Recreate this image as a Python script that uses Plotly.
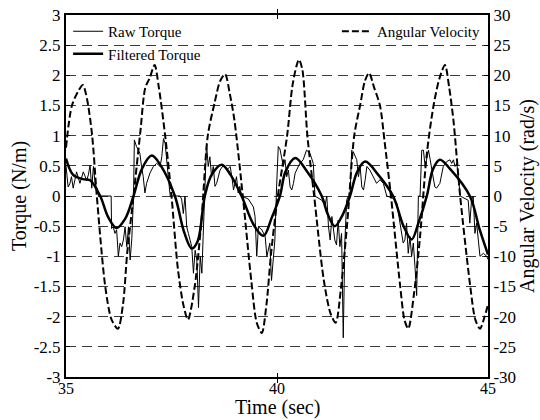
import plotly.graph_objects as go

# ---------------- data ----------------
raw_t = [35.00, 35.05, 35.09, 35.13, 35.17, 35.25, 35.33, 35.41, 35.49, 35.53, 35.57, 35.61, 35.65, 35.69, 35.73,
         35.77, 36.07, 36.08, 36.12, 36.16, 36.20, 36.24, 36.28, 36.32, 36.36, 36.40, 36.44, 36.48, 36.52, 36.56,
         36.60, 36.62, 36.67, 36.71, 36.75, 36.79, 36.83, 36.87, 36.91, 36.99, 37.07, 37.15, 37.23, 37.27, 37.31,
         37.35, 37.39, 37.43, 37.47, 37.70, 37.74, 37.78, 37.82, 37.86, 37.90, 37.94, 37.98, 38.02, 38.06, 38.10,
         38.14, 38.18, 38.22, 38.25, 38.29, 38.33, 38.37, 38.41, 38.45, 38.49, 38.53, 38.57, 38.65, 38.73, 38.81,
         38.89, 38.93, 38.97, 39.04, 39.08, 39.12, 39.16, 39.32, 39.44, 39.48, 39.52, 39.56, 39.64, 39.72, 39.76,
         39.83, 39.87, 39.91, 39.95, 39.99, 40.03, 40.07, 40.11, 40.15, 40.19, 40.23, 40.27, 40.31, 40.35, 40.39,
         40.43, 40.47, 40.54, 40.62, 40.70, 40.78, 40.82, 40.86, 40.90, 41.06, 41.14, 41.18, 41.22, 41.26, 41.30,
         41.33, 41.37, 41.41, 41.45, 41.49, 41.53, 41.57, 41.61, 41.65, 41.69, 41.73, 41.77, 41.81, 41.85, 41.89,
         41.93, 41.97, 42.01, 42.05, 42.09, 42.13, 42.20, 42.28, 42.36, 42.44, 42.52, 42.60, 42.76, 42.84, 42.91,
         42.95, 42.99, 43.03, 43.07, 43.11, 43.15, 43.19, 43.23, 43.27, 43.31, 43.35, 43.39, 43.43, 43.47, 43.51,
         43.55, 43.59, 43.63, 43.67, 43.70, 43.74, 43.78, 43.86, 43.94, 44.02, 44.10, 44.14, 44.18, 44.22, 44.26,
         44.30, 44.34, 44.53, 44.57, 44.61, 44.65, 44.69, 44.73, 44.77, 44.81, 44.89, 44.97, 45.00]
raw_torque = [0.50, 0.15, 0.20, 0.32, 0.13, 0.40, 0.21, 0.40, 0.26, 0.35, 0.51, 0.13, 0.49, 0.21, 0.13,
              0.00, 0.00, -0.54, -0.51, -0.62, -0.56, -1.00, -0.78, -0.84, -0.73, -0.51, -0.84, -0.51, -1.06, -0.70,
              0.00, 0.93, 0.82, 0.76, 0.71, 0.49, 0.32, 0.05, 0.21, 0.38, 0.49, 0.54, 0.49, 0.65, 0.95,
              0.87, 0.49, 0.27, 0.00, 0.00, -0.05, -0.29, 0.00, -0.51, -0.62, -0.73, -0.84, -1.28, -0.90, -1.06,
              -1.85, -1.00, -1.28, -0.67, 0.00, 0.87, 0.49, 0.65, 0.32, 0.49, 0.16, 0.21, 0.43, 0.51, 0.43,
              0.49, 0.32, 0.10, 0.32, 0.05, 0.16, 0.00, -0.05, -0.18, -0.34, -1.00, -0.51, -0.56, -0.67, -1.00,
              -0.78, -1.40, -1.06, -0.73, 0.15, 0.82, 0.78, 0.60, 0.49, 0.60, 0.32, 0.43, 0.15, 0.10, 0.21,
              0.38, 0.43, 0.54, 0.60, 0.76, 0.71, 0.62, 0.54, 0.00, -0.07, -0.15, 0.00, -0.51, -0.73, -0.34,
              -0.51, -0.73, -0.81, -0.40, -0.84, -0.62, -2.35, -0.73, -0.07, 0.00, 0.00, 0.76, 0.73, 0.65, 0.60,
              0.32, 0.49, 0.15, 0.10, 0.27, 0.49, 0.43, 0.32, 0.21, 0.27, 0.21, 0.00, -0.04, -0.12, -0.45,
              -0.56, -0.78, -0.73, -0.45, -0.95, -0.67, -1.00, -0.78, -1.17, -1.65, 0.00, 0.00, 0.76, 0.76, 0.49,
              0.65, 0.76, 0.60, 0.43, 0.27, 0.15, 0.13, 0.21, 0.49, 0.57, 0.60, 0.54, 0.60, 0.49, 0.54,
              0.32, 0.00, -0.07, -0.45, -0.07, 0.00, -0.62, -0.45, -0.73, -1.00, -0.95, -1.00, -1.05]

filt_t = [35.00, 35.17, 35.40, 35.57, 35.81, 36.00, 36.20, 36.40, 36.60, 36.80, 37.03, 37.25, 37.58, 37.80,
          37.98, 38.12, 38.29, 38.45, 38.69, 38.90, 39.16, 39.45, 39.68, 39.88, 40.07, 40.20, 40.43, 40.70,
          41.06, 41.20, 41.37, 41.55, 41.73, 41.90, 42.09, 42.40, 42.75, 43.00, 43.19, 43.35, 43.55, 43.70,
          43.86, 44.10, 44.57, 44.80, 45.00]
filt_torque = [0.62, 0.35, 0.28, 0.26, 0.00, -0.35, -0.53, -0.38, 0.00, 0.45, 0.67, 0.50, 0.00, -0.60,
               -0.87, -0.75, 0.00, 0.35, 0.52, 0.35, 0.00, -0.48, -0.66, -0.35, 0.00, 0.40, 0.63, 0.42,
               0.00, -0.30, -0.50, -0.32, 0.00, 0.40, 0.57, 0.35, 0.00, -0.50, -0.72, -0.45, 0.00, 0.45,
               0.60, 0.45, 0.00, -0.55, -0.97]

av_t = [35.00, 35.14, 35.30, 35.40, 35.50, 35.62, 35.73, 35.93, 36.08, 36.23, 36.35, 36.45, 36.60, 36.76,
        36.88, 36.98, 37.10, 37.20, 37.35, 37.50, 37.65, 37.78, 37.89, 38.05, 38.21, 38.36, 38.52, 38.65,
        38.77, 38.88, 38.99, 39.19, 39.39, 39.52, 39.64, 39.75, 39.86, 40.02, 40.24, 40.36, 40.46, 40.52,
        40.60, 40.72, 40.88, 41.11, 41.27, 41.39, 41.52, 41.67, 41.83, 41.98, 42.08, 42.18, 42.30, 42.44,
        42.55, 42.70, 42.92, 43.02, 43.11, 43.25, 43.39, 43.55, 43.71, 43.85, 43.98, 44.08, 44.18, 44.34,
        44.58, 44.70, 44.81, 44.92, 45.00]
ang_vel = [8, 15, 17.5, 18.4, 16, 10, 0, -15, -20.5, -22, -18, -9.5, 0, 10.5,
           18, 19.5, 21.7, 18, 10, 0, -12, -18, -20.5, -15, -4, 10, 15.4, 19,
           20.2, 17, 12.6, 0, -14, -21, -22.7, -18, -9.5, 0, 10, 18, 21.5, 22.6,
           21, 10, 0, -14, -19.5, -21, -15, -4, 10, 15.4, 19, 20.4, 18, 15,
           9, 0, -15, -20.5, -22, -16, -6.7, 7, 15, 19.5, 21.7, 18, 12.6, 0,
           -15, -20.5, -22, -20, -18]

x_ticks = [35, 40, 45]
torque_ticks = [-3, -2.5, -2, -1.5, -1, -0.5, 0, 0.5, 1, 1.5, 2, 2.5, 3]
av_ticks = [-30, -25, -20, -15, -10, -5, 0, 5, 10, 15, 20, 25, 30]
x_title = "Time (sec)"

FONT = "Liberation Serif, Times New Roman, serif"

fig = go.Figure()
fig.add_trace(go.Scatter(x=raw_t, y=raw_torque, name="Raw Torque", mode="lines",
                         line=dict(color="black", width=1), legend="legend"))
fig.add_trace(go.Scatter(x=filt_t, y=filt_torque, name="Filtered Torque", mode="lines",
                         line=dict(color="black", width=2.5, shape="spline", smoothing=1.0), legend="legend"))
fig.add_trace(go.Scatter(x=av_t, y=ang_vel, name="Angular Velocity", mode="lines", yaxis="y2",
                         line=dict(color="black", width=2, dash="7px,3px", shape="spline", smoothing=0.8),
                         legend="legend2"))

fig.update_layout(
    width=540, height=420,
    margin=dict(l=66, r=52, t=15, b=43),
    paper_bgcolor="white", plot_bgcolor="white",
    font=dict(family=FONT, color="black", size=16),
    showlegend=True,
    xaxis=dict(range=[35, 45], tickvals=x_ticks, ticktext=[str(v) for v in x_ticks],
               ticks="inside", ticklen=4, tickcolor="black", showgrid=False, zeroline=False,
               showline=True, linecolor="black", linewidth=2, mirror="allticks", automargin=False,
               ticklabelstandoff=-4,
               tickfont=dict(family=FONT, size=16)),
    yaxis=dict(range=[-3, 3], tickvals=torque_ticks, ticktext=[f"{v:g}" for v in torque_ticks],
               ticks="inside", ticklen=4, tickcolor="black", showline=True, linecolor="black", linewidth=2,
               showgrid=True, gridcolor="#3a3a3a", gridwidth=1, griddash="10px,6px", zeroline=False,
               automargin=False,
               title=dict(text="Torque (N/m)", font=dict(family=FONT, size=20), standoff=2),
               tickfont=dict(family=FONT, size=17)),
    yaxis2=dict(range=[-30, 30], tickvals=av_ticks, ticktext=[f"{v:g}" for v in av_ticks],
                overlaying="y", side="right", ticks="inside", ticklen=4, tickcolor="black",
                showline=True, linecolor="black", linewidth=2, showgrid=False, zeroline=False,
                automargin=False,
                title=dict(text="Angular Velocity (rad/s)", font=dict(family=FONT, size=20), standoff=2),
                tickfont=dict(family=FONT, size=17)),
    legend=dict(x=0.005, y=1.0, xanchor="left", yanchor="top", bgcolor="rgba(0,0,0,0)",
                font=dict(family=FONT, size=15), itemwidth=30, tracegroupgap=0),
    legend2=dict(x=0.995, y=1.0, xanchor="right", yanchor="top", bgcolor="rgba(0,0,0,0)",
                 font=dict(family=FONT, size=15), itemwidth=30),
    annotations=[dict(text=x_title, xref="paper", yref="paper", x=0.5, y=-0.085,
                      xanchor="center", yanchor="middle", showarrow=False,
                      font=dict(family=FONT, size=20))],
)

fig.write_html("out.html")
